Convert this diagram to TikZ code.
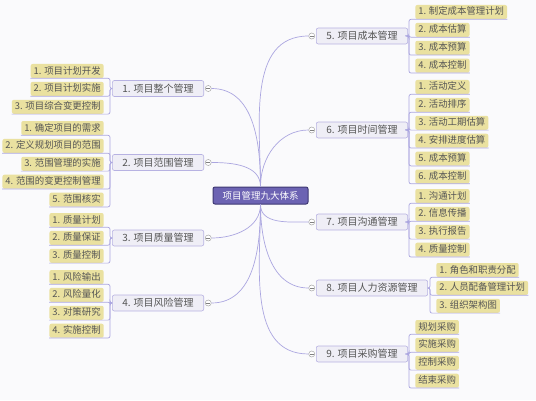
\documentclass[tikz,border=0pt]{standalone}
\usepackage{fontspec}
\newfontfamily\cjk{Noto Sans CJK SC}
\usepackage{tikz}
\usetikzlibrary{positioning}
\definecolor{linkc}{HTML}{ABA6E0}
\definecolor{branchfill}{HTML}{EFEEF6}
\definecolor{branchline}{HTML}{B7B2E2}
\definecolor{leaffill}{HTML}{EAE1A0}
\definecolor{rootfill}{HTML}{6C63B3}
\definecolor{rootline}{HTML}{3E3873}
\definecolor{textc}{HTML}{555555}
\definecolor{bgc}{HTML}{FAFAFC}

\begin{document}
\begin{tikzpicture}[x=1pt,y=1pt,line width=0.6pt]
	\tikzstyle{root}=[draw=rootline,fill=rootfill,rounded corners=2pt,text=white,font=\cjk\fontsize{9.5}{11}\selectfont,minimum width=95pt,minimum height=17pt,line width=1pt]
	\tikzstyle{branch}=[draw=branchline,fill=branchfill,rounded corners=2pt,text=textc,font=\cjk\fontsize{10}{12}\selectfont,minimum width=91pt,minimum height=16pt,inner xsep=10pt]
	\tikzstyle{leaf}=[fill=leaffill,rounded corners=2pt,text=textc,font=\cjk\fontsize{9.4}{11}\selectfont,minimum height=14pt,text height=7.5pt,text depth=1.5pt,inner xsep=3pt,inner ysep=0pt]
	\tikzstyle{toggle}=[circle,draw=gray!70,fill=white,minimum size=6pt,inner sep=0pt,line width=0.5pt,path picture={\draw[gray,line width=0.5pt] ([xshift=-1.8pt]path picture bounding box.center) -- ([xshift=1.8pt]path picture bounding box.center);}]
	\tikzstyle{link}=[draw=linkc,line width=0.7pt,rounded corners=2pt]
	\useasboundingbox (0,0) rectangle (536,400);
	\fill[bgc] (0,0) rectangle (536,400);
	\node[root] (root) at (260.5,204.5) {项目管理九大体系};
	\node[branch,anchor=east] (b1) at (204,311.5) {1. 项目整个管理};
	\node[branch,anchor=east] (b2) at (204,237.5) {2. 项目范围管理};
	\node[branch,anchor=east] (b3) at (204,162) {3. 项目质量管理};
	\node[branch,anchor=east] (b4) at (204,97) {4. 项目风险管理};
	\node[branch,anchor=west] (b5) at (316,364) {5. 项目成本管理};
	\node[branch,anchor=west] (b6) at (316,270) {6. 项目时间管理};
	\node[branch,anchor=west] (b7) at (316,178) {7. 项目沟通管理};
	\node[branch,anchor=west] (b8) at (316,112) {8. 项目人力资源管理};
	\node[branch,anchor=west] (b9) at (316,46) {9. 项目采购管理};
	\node[toggle,right=1pt of b1] (t1) {};
	\node[toggle,right=1pt of b2] (t2) {};
	\node[toggle,right=1pt of b3] (t3) {};
	\node[toggle,right=1pt of b4] (t4) {};
	\node[toggle,left=1pt of b5] (t5) {};
	\node[toggle,left=1pt of b6] (t6) {};
	\node[toggle,left=1pt of b7] (t7) {};
	\node[toggle,left=1pt of b8] (t8) {};
	\node[toggle,left=1pt of b9] (t9) {};
	\draw[link] (root.north) to[out=90,in=0] (t1.east);
	\draw[link] (root.north) to[out=90,in=0] (t2.east);
	\draw[link] (root.south) to[out=-90,in=0] (t3.east);
	\draw[link] (root.south) to[out=-90,in=0] (t4.east);
	\draw[link] (root.north) to[out=90,in=180] (t5.west);
	\draw[link] (root.north) to[out=90,in=180] (t6.west);
	\draw[link] (root.south) to[out=-90,in=180] (t7.west);
	\draw[link] (root.south) to[out=-90,in=180] (t8.west);
	\draw[link] (root.south) to[out=-90,in=180] (t9.west);
	% left side
	\node[leaf,anchor=east] (l11) at (104,329) {1. 项目计划开发};
	\node[leaf,below=3.3pt of l11.south east,anchor=north east] (l12) {2. 项目计划实施};
	\node[leaf,below=3.3pt of l12.south east,anchor=north east] (l13) {3. 项目综合变更控制};
	\draw[link] (b1.west) -| ([xshift=6pt]l11.south east) -- (l11.south west);
	\draw[link] (b1.west) -| ([xshift=6pt]l12.south east) -- (l12.south west);
	\draw[link] (b1.west) -| ([xshift=6pt]l13.south east) -- (l13.south west);
	\node[leaf,anchor=east] (l21) at (104,272) {1. 确定项目的需求};
	\node[leaf,below=3.3pt of l21.south east,anchor=north east] (l22) {2. 定义规划项目的范围};
	\node[leaf,below=3.3pt of l22.south east,anchor=north east] (l23) {3. 范围管理的实施};
	\node[leaf,below=3.3pt of l23.south east,anchor=north east] (l24) {4. 范围的变更控制管理};
	\node[leaf,below=3.3pt of l24.south east,anchor=north east] (l25) {5. 范围核实};
	\draw[link] (b2.west) -| ([xshift=6pt]l21.south east) -- (l21.south west);
	\draw[link] (b2.west) -| ([xshift=6pt]l22.south east) -- (l22.south west);
	\draw[link] (b2.west) -| ([xshift=6pt]l23.south east) -- (l23.south west);
	\draw[link] (b2.west) -| ([xshift=6pt]l24.south east) -- (l24.south west);
	\draw[link] (b2.west) -| ([xshift=6pt]l25.south east) -- (l25.south west);
	\node[leaf,anchor=east] (l31) at (104,180) {1. 质量计划};
	\node[leaf,below=3.3pt of l31.south east,anchor=north east] (l32) {2. 质量保证};
	\node[leaf,below=3.3pt of l32.south east,anchor=north east] (l33) {3. 质量控制};
	\draw[link] (b3.west) -| ([xshift=6pt]l31.south east) -- (l31.south west);
	\draw[link] (b3.west) -| ([xshift=6pt]l32.south east) -- (l32.south west);
	\draw[link] (b3.west) -| ([xshift=6pt]l33.south east) -- (l33.south west);
	\node[leaf,anchor=east] (l41) at (104,123) {1. 风险输出};
	\node[leaf,below=3.3pt of l41.south east,anchor=north east] (l42) {2. 风险量化};
	\node[leaf,below=3.3pt of l42.south east,anchor=north east] (l43) {3. 对策研究};
	\node[leaf,below=3.3pt of l43.south east,anchor=north east] (l44) {4. 实施控制};
	\draw[link] (b4.west) -| ([xshift=6pt]l41.south east) -- (l41.south west);
	\draw[link] (b4.west) -| ([xshift=6pt]l42.south east) -- (l42.south west);
	\draw[link] (b4.west) -| ([xshift=6pt]l43.south east) -- (l43.south west);
	\draw[link] (b4.west) -| ([xshift=6pt]l44.south east) -- (l44.south west);
	% right side
	\node[leaf,anchor=west] (l51) at (415,388) {1. 制定成本管理计划};
	\node[leaf,below=3.3pt of l51.south west,anchor=north west] (l52) {2. 成本估算};
	\node[leaf,below=3.3pt of l52.south west,anchor=north west] (l53) {3. 成本预算};
	\node[leaf,below=3.3pt of l53.south west,anchor=north west] (l54) {4. 成本控制};
	\draw[link] (b5.east) -| ([xshift=-6pt]l51.south west) -- (l51.south east);
	\draw[link] (b5.east) -| ([xshift=-6pt]l52.south west) -- (l52.south east);
	\draw[link] (b5.east) -| ([xshift=-6pt]l53.south west) -- (l53.south east);
	\draw[link] (b5.east) -| ([xshift=-6pt]l54.south west) -- (l54.south east);
	\node[leaf,anchor=west] (l61) at (415,313) {1. 活动定义};
	\node[leaf,below=3.3pt of l61.south west,anchor=north west] (l62) {2. 活动排序};
	\node[leaf,below=3.3pt of l62.south west,anchor=north west] (l63) {3. 活动工期估算};
	\node[leaf,below=3.3pt of l63.south west,anchor=north west] (l64) {4. 安排进度估算};
	\node[leaf,below=3.3pt of l64.south west,anchor=north west] (l65) {5. 成本预算};
	\node[leaf,below=3.3pt of l65.south west,anchor=north west] (l66) {6. 成本控制};
	\draw[link] (b6.east) -| ([xshift=-6pt]l61.south west) -- (l61.south east);
	\draw[link] (b6.east) -| ([xshift=-6pt]l62.south west) -- (l62.south east);
	\draw[link] (b6.east) -| ([xshift=-6pt]l63.south west) -- (l63.south east);
	\draw[link] (b6.east) -| ([xshift=-6pt]l64.south west) -- (l64.south east);
	\draw[link] (b6.east) -| ([xshift=-6pt]l65.south west) -- (l65.south east);
	\draw[link] (b6.east) -| ([xshift=-6pt]l66.south west) -- (l66.south east);
	\node[leaf,anchor=west] (l71) at (415,204) {1. 沟通计划};
	\node[leaf,below=3.3pt of l71.south west,anchor=north west] (l72) {2. 信息传播};
	\node[leaf,below=3.3pt of l72.south west,anchor=north west] (l73) {3. 执行报告};
	\node[leaf,below=3.3pt of l73.south west,anchor=north west] (l74) {4. 质量控制};
	\draw[link] (b7.east) -| ([xshift=-6pt]l71.south west) -- (l71.south east);
	\draw[link] (b7.east) -| ([xshift=-6pt]l72.south west) -- (l72.south east);
	\draw[link] (b7.east) -| ([xshift=-6pt]l73.south west) -- (l73.south east);
	\draw[link] (b7.east) -| ([xshift=-6pt]l74.south west) -- (l74.south east);
	\node[leaf,anchor=west] (l81) at (436,130) {1. 角色和职责分配};
	\node[leaf,below=3.3pt of l81.south west,anchor=north west] (l82) {2. 人员配备管理计划};
	\node[leaf,below=3.3pt of l82.south west,anchor=north west] (l83) {3. 组织架构图};
	\draw[link] (b8.east) -| ([xshift=-6pt]l81.south west) -- (l81.south east);
	\draw[link] (b8.east) -| ([xshift=-6pt]l82.south west) -- (l82.south east);
	\draw[link] (b8.east) -| ([xshift=-6pt]l83.south west) -- (l83.south east);
	\node[leaf,anchor=west] (l91) at (415,73) {规划采购};
	\node[leaf,below=3.3pt of l91.south west,anchor=north west] (l92) {实施采购};
	\node[leaf,below=3.3pt of l92.south west,anchor=north west] (l93) {控制采购};
	\node[leaf,below=3.3pt of l93.south west,anchor=north west] (l94) {结束采购};
	\draw[link] (b9.east) -| ([xshift=-6pt]l91.south west) -- (l91.south east);
	\draw[link] (b9.east) -| ([xshift=-6pt]l92.south west) -- (l92.south east);
	\draw[link] (b9.east) -| ([xshift=-6pt]l93.south west) -- (l93.south east);
	\draw[link] (b9.east) -| ([xshift=-6pt]l94.south west) -- (l94.south east);
\end{tikzpicture}
\end{document}
